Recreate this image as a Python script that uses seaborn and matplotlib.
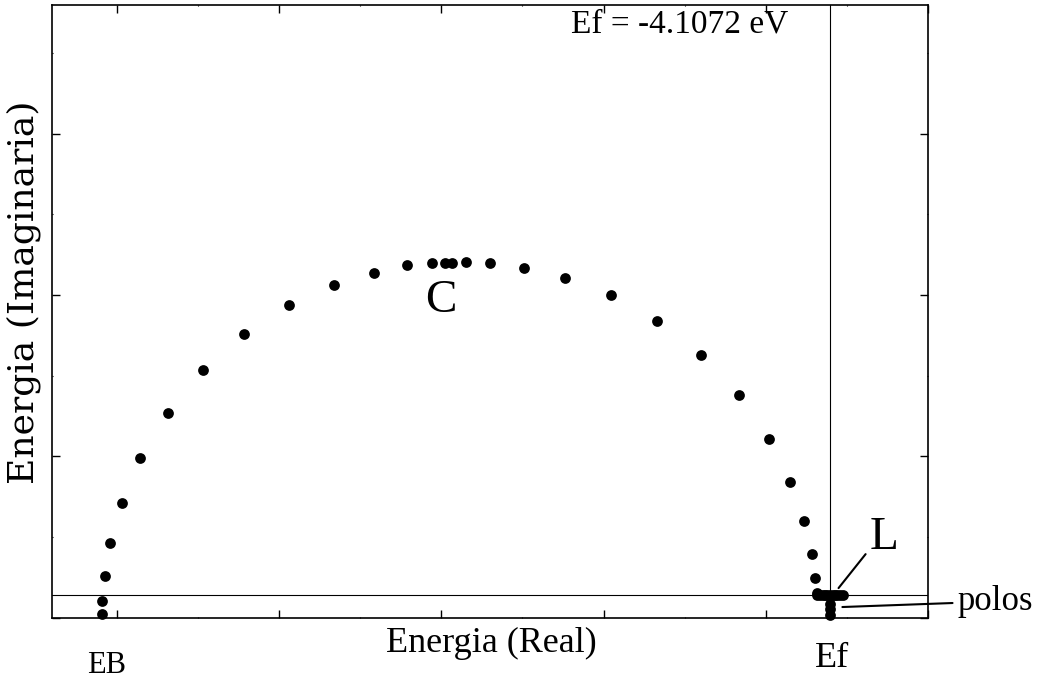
import matplotlib
matplotlib.use("Agg")
import matplotlib.pyplot as plt
from matplotlib.ticker import MultipleLocator, NullFormatter
import seaborn as sns
import pandas as pd

# Energies in Rydberg
EF_EV = -4.1072
EF_RY = EF_EV / 13.6057
LINE_IM = 0.0696          # horizontal line of the contour (above the first poles)

# Arc of the integration contour, from EB (bottom left) to near Ef
arc_re = [-2.545, -2.545, -2.538, -2.520, -2.485, -2.428, -2.344, -2.235, -2.107,
          -1.969, -1.832, -1.709, -1.606, -1.529, -1.489, -1.467, -1.424, -1.350,
          -1.245, -1.118, -0.978, -0.835, -0.701, -0.583, -0.491, -0.424, -0.381,
          -0.357, -0.347, -0.341]
arc_im = [0.0105, 0.0527, 0.129, 0.2316, 0.3565, 0.495, 0.6355, 0.767, 0.879,
          0.968, 1.030, 1.0685, 1.093, 1.0995, 1.0995, 1.0995, 1.1026, 1.0995,
          1.084, 1.052, 0.999, 0.920, 0.814, 0.690, 0.555, 0.4216, 0.299,
          0.1965, 0.122, 0.0756]

# Straight segment L, parallel to the real axis
line_re = [-0.341, -0.333, -0.325, -0.318, -0.310, -0.302, -0.294, -0.286,
           -0.279, -0.271, -0.263]
line_im = [LINE_IM] * len(line_re)

# Poles of the Fermi function below the segment
pole_re = [EF_RY, EF_RY, EF_RY]
pole_im = [0.0087, 0.0261, 0.0435]

points = pd.DataFrame({
    "re": arc_re + line_re + pole_re,
    "im": arc_im + line_im + pole_im,
})

sns.set_style("white")
plt.rcParams["font.family"] = ["Liberation Serif", "DejaVu Serif"]
plt.rcParams["text.color"] = "black"

fig = plt.figure(figsize=(10.4, 6.8), dpi=100)
ax = fig.add_axes([52 / 1040, 1 - 617.7 / 680, 876 / 1040, 612.7 / 680])

ax.set_xlim(-2.70, 0.0)
ax.set_ylim(0.0, 1.899)

ax.axvline(EF_RY, color="black", lw=0.8, zorder=1)
ax.axhline(LINE_IM, color="black", lw=0.8, zorder=1)

sns.scatterplot(data=points, x="re", y="im", ax=ax, color="black", s=60,
                linewidth=0, zorder=3, clip_on=False)

for s in ax.spines.values():
    s.set_linewidth(1.2)
    s.set_color("black")

ax.xaxis.set_major_locator(MultipleLocator(0.5))
ax.xaxis.set_minor_locator(MultipleLocator(0.25))
ax.yaxis.set_major_locator(MultipleLocator(0.5))
ax.yaxis.set_minor_locator(MultipleLocator(0.25))
ax.xaxis.set_major_formatter(NullFormatter())
ax.yaxis.set_major_formatter(NullFormatter())
ax.tick_params(which="major", direction="in", length=6, width=1.0,
               top=True, right=True, bottom=True, left=True, color="black")
ax.tick_params(which="minor", direction="in", length=1, width=0.8,
               top=True, right=True, bottom=True, left=True, color="black")
ax.set_xlabel("")
ax.set_ylabel("")

# Axis titles
fig.text(491 / 1040, 1 - 652 / 680, "Energia (Real)", ha="center", va="baseline",
         fontsize=26)
fig.text(24 / 1040, 1 - 292 / 680, "Energia (Imaginaria)", ha="center", va="center",
         rotation=90, fontsize=26, family="DejaVu Serif")

# Annotations
ax.text(-1.100, 1.813, f"Ef = {EF_EV:.4f} eV", ha="left", va="baseline", fontsize=24)
ax.text(-1.550, 0.947, "C", ha="left", va="baseline", fontsize=34)
ax.text(-0.180, 0.213, "L", ha="left", va="baseline", fontsize=34)
ax.plot([-0.2757, -0.1923], [0.0918, 0.197], color="black", lw=1.5)

ax.text(-2.591, -0.171, "EB", ha="left", va="baseline", fontsize=22, clip_on=False)
ax.text(-0.350, -0.153, "Ef", ha="left", va="baseline", fontsize=26, clip_on=False)

ax.plot([-0.2639, 0.0756], [0.0331, 0.0455], color="black", lw=1.5, clip_on=False)
ax.text(0.0917, 0.024, "polos", ha="left", va="baseline", fontsize=25, clip_on=False)

fig.savefig("out.png", dpi=100)
